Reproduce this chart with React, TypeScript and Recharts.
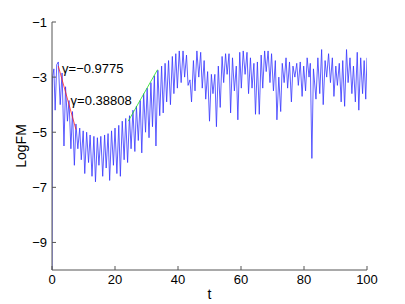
import React from 'react';
import {
  LineChart,
  Line,
  XAxis,
  YAxis,
  ReferenceDot,
} from 'recharts';

// [t, LogFM]: peak / dip pairs
const decayPhase: [number, number][] = [
  [0, -10], [0.15, -3.0], [0.6, -2.7], [1.0, -4.2], [1.5, -2.55], [2.0, -2.45],
  [2.6, -4.0], [3.2, -2.85], [3.8, -5.5], [4.3, -3.35], [4.9, -4.6], [5.4, -3.85],
  [6.0, -5.6], [6.5, -4.25], [7.1, -6.2], [7.6, -4.7], [8.2, -5.6], [8.8, -4.85],
  [9.3, -6.0], [9.9, -4.95], [10.4, -6.5], [11.0, -5.0], [11.6, -6.1], [12.1, -5.1],
  [12.7, -6.6], [13.3, -5.15], [13.8, -6.8], [14.4, -5.2], [14.9, -6.2],
];

const growthPhase: [number, number][] = [
  [15.5, -5.15], [16.1, -6.6], [16.7, -5.1], [17.2, -6.3], [17.8, -5.05], [18.3, -6.75],
  [18.9, -4.95], [19.5, -6.2], [20.0, -4.85], [20.6, -6.5], [21.2, -4.75], [21.7, -6.6],
  [22.3, -4.6], [22.9, -6.0], [23.4, -4.5], [24.0, -6.1], [24.6, -4.4], [25.1, -5.6],
  [25.7, -4.2], [26.3, -5.7], [26.8, -4.05], [27.4, -5.3], [28.0, -3.85], [28.5, -5.75],
  [29.1, -3.6], [29.7, -5.0], [30.2, -3.4], [30.8, -5.2], [31.4, -3.2], [31.9, -4.8],
  [32.5, -2.95], [33.0, -5.5], [33.6, -2.75], [34.2, -4.4], [34.8, -2.6], [35.3, -4.3],
  [35.9, -2.5], [36.4, -3.9], [37.0, -2.4], [37.6, -4.0], [38.2, -2.25], [38.7, -3.6],
  [39.3, -2.15], [39.8, -3.4], [40.4, -2.05], [41.0, -3.2],
];

const saturatedPhase: [number, number][] = [
  [41.6, -2.05], [42.1, -3.0], [42.7, -2.2], [43.2, -3.3], [43.8, -3.1], [44.3, -3.9],
  [44.9, -2.4], [45.4, -3.5], [46.0, -2.05], [46.6, -3.0], [47.2, -2.1], [47.7, -3.4],
  [48.3, -2.4], [48.8, -3.8], [49.4, -2.8], [50.0, -4.6], [50.6, -2.9], [51.1, -3.6],
  [51.7, -2.9], [52.2, -4.8], [52.8, -2.6], [53.4, -4.1], [54.0, -2.25], [54.5, -3.2],
  [55.1, -2.15], [55.6, -2.9], [56.2, -2.15], [56.7, -4.3], [57.3, -2.3], [57.9, -3.5],
  [58.5, -2.6], [59.0, -4.55], [59.6, -2.1], [60.1, -3.4], [60.7, -2.05], [61.3, -2.9],
  [61.9, -2.1], [62.4, -3.6], [63.0, -2.3], [63.5, -3.4], [64.1, -2.5], [64.6, -4.35],
  [65.2, -2.45], [65.8, -4.35], [66.4, -2.2], [66.9, -3.4], [67.5, -2.05], [68.0, -2.8],
  [68.6, -2.05], [69.2, -3.2], [69.7, -2.15], [70.3, -3.5], [70.9, -2.4], [71.4, -4.55],
  [72.0, -3.0], [72.6, -4.25], [73.1, -2.5], [73.7, -3.2], [74.3, -2.3], [74.8, -3.4],
  [75.4, -2.45], [76.0, -3.9], [76.5, -2.6], [77.1, -3.0], [77.7, -2.5], [78.2, -3.3],
  [78.8, -2.45], [79.4, -3.7], [79.9, -2.6], [80.5, -3.5], [81.0, -2.3], [81.6, -3.0],
  [82.0, -2.5], [82.5, -5.95], [83.0, -2.7], [83.8, -3.8], [84.4, -2.3], [85.0, -3.6],
  [85.6, -2.0], [86.1, -4.0], [86.7, -2.4], [87.2, -3.0], [87.8, -2.15], [88.4, -3.2],
  [89.0, -2.3], [89.5, -3.7], [90.1, -2.6], [90.6, -3.3], [91.2, -2.5], [91.8, -3.9],
  [92.3, -2.4], [92.9, -4.06], [93.5, -2.0], [94.0, -3.2], [94.6, -2.3], [95.2, -3.6],
  [95.7, -2.6], [96.3, -3.9], [96.9, -2.1], [97.4, -4.2], [98.0, -2.3], [98.6, -3.6],
  [99.1, -2.4], [99.6, -3.8], [100, -2.3],
];

// linear fits drawn over the data
const decayFit: [number, number][] = [[2.0, -2.6], [7.6, -4.9]];
const growthFit: [number, number][] = [[24.2, -4.6], [33.5, -2.73]];

const xTicks = [0, 20, 40, 60, 80, 100];
const yTicks = [-9, -7, -5, -3, -1];

const toRows = (pts: [number, number][]) => pts.map(([t, v]) => ({ t, v }));

const mainData = toRows([...decayPhase, ...growthPhase, ...saturatedPhase]);

const FONT = '"Liberation Sans", Arial, sans-serif';
const AXIS = '#555';
const fmt = (v: number) => (v < 0 ? `\u2212${-v}` : `${v}`);

const gammaLabel = (text: string) => (props: any) => {
  const vb = props.viewBox || {};
  return (
    <text
      x={vb.x}
      y={vb.y}
      dy="0.35em"
      fontSize={13}
      fontFamily={FONT}
      fill="#000"
    >
      {text}
    </text>
  );
};

export default function App() {
  return (
    <div style={{ position: 'absolute', left: 0, top: 0 }}>
      <LineChart
        width={405}
        height={304}
        margin={{ top: 22, right: 38, bottom: 0, left: 0 }}
      >
        <XAxis
          xAxisId={0}
          dataKey="t"
          type="number"
          domain={[0, 100]}
          ticks={xTicks}
          allowDataOverflow
          height={34}
          stroke={AXIS}
          tickSize={-4}
          tickMargin={9}
          tick={{ fill: '#000', fontSize: 13, fontFamily: FONT }}
          label={{
            value: 't',
            position: 'insideBottom',
            offset: 5,
            fill: '#000',
            fontSize: 14,
            fontFamily: FONT,
          }}
        />
        <XAxis
          xAxisId="top"
          orientation="top"
          type="number"
          domain={[0, 100]}
          ticks={xTicks}
          height={0}
          stroke={AXIS}
          tickSize={-4}
          tickFormatter={() => ''}
        />
        <YAxis
          yAxisId={0}
          type="number"
          domain={[-10, -1]}
          ticks={yTicks}
          allowDataOverflow
          width={52}
          stroke={AXIS}
          tickSize={-4}
          tickMargin={9}
          tickFormatter={fmt}
          tick={{ fill: '#000', fontSize: 13, fontFamily: FONT }}
          label={{
            value: 'LogFM',
            angle: -90,
            position: 'insideLeft',
            offset: 21,
            style: { textAnchor: 'middle' },
            fill: '#000',
            fontSize: 14,
            fontFamily: FONT,
          }}
        />
        <YAxis
          yAxisId="right"
          orientation="right"
          type="number"
          domain={[-10, -1]}
          ticks={yTicks}
          width={0}
          stroke={AXIS}
          tickSize={-4}
          tickFormatter={() => ''}
        />
        <Line
          data={mainData}
          dataKey="v"
          type="linear"
          stroke="#3636ff"
          strokeWidth={0.8}
          dot={false}
          isAnimationActive={false}
        />
        <Line
          data={toRows(decayFit)}
          dataKey="v"
          type="linear"
          stroke="#ff2020"
          strokeWidth={0.8}
          dot={false}
          isAnimationActive={false}
        />
        <Line
          data={toRows(growthFit)}
          dataKey="v"
          type="linear"
          stroke="#20e020"
          strokeWidth={0.8}
          dot={false}
          isAnimationActive={false}
        />
        <ReferenceDot
          x={3.2}
          y={-2.69}
          r={0}
          stroke="none"
          label={gammaLabel('\u03b3=\u22120.9775')}
        />
        <ReferenceDot
          x={5.9}
          y={-3.84}
          r={0}
          stroke="none"
          label={gammaLabel('\u03b3=0.38808')}
        />
      </LineChart>
    </div>
  );
}
